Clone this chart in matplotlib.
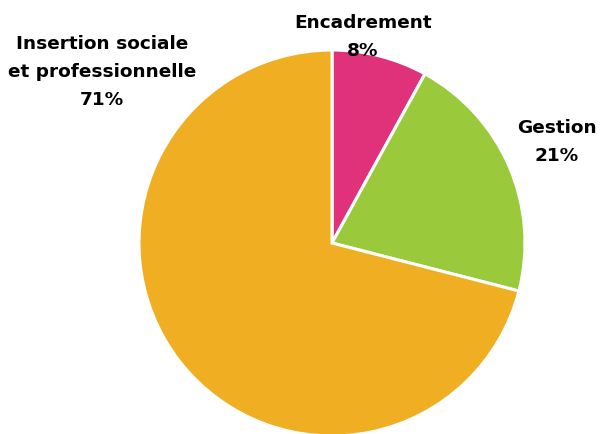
import matplotlib

matplotlib.use("Agg")
import matplotlib.pyplot as plt

# Data
categories = ["Encadrement", "Gestion", "Insertion sociale\net professionnelle"]
shares = [8, 21, 71]
colors = ["#E0327A", "#9ACA3C", "#F0AF22"]

W, H = 604, 435
fig = plt.figure(figsize=(W / 100, H / 100), dpi=100)
ax = fig.add_axes([0, 0, 1, 1])

# pie centre / radius in pixel coords (y measured from bottom)
cx, cy, r = 332, H - 244, 193
ax.pie(shares, colors=colors, startangle=90, counterclock=False,
       center=(cx, cy), radius=r,
       wedgeprops=dict(edgecolor="white", linewidth=2.2))
ax.set_xlim(0, W)
ax.set_ylim(0, H)
ax.set_aspect("equal")
ax.axis("off")

# label anchors in pixels (x, y from top)
label_pos = [(363, 37), (557, 142), (102, 72)]
for name, val, (px, py) in zip(categories, shares, label_pos):
    ax.text(px, H - py, f"{name}\n{val}%", ha="center", va="center",
            fontsize=13.3, fontweight="bold", family="DejaVu Sans",
            linespacing=1.72, color="black")

fig.savefig("out.png", dpi=100)
